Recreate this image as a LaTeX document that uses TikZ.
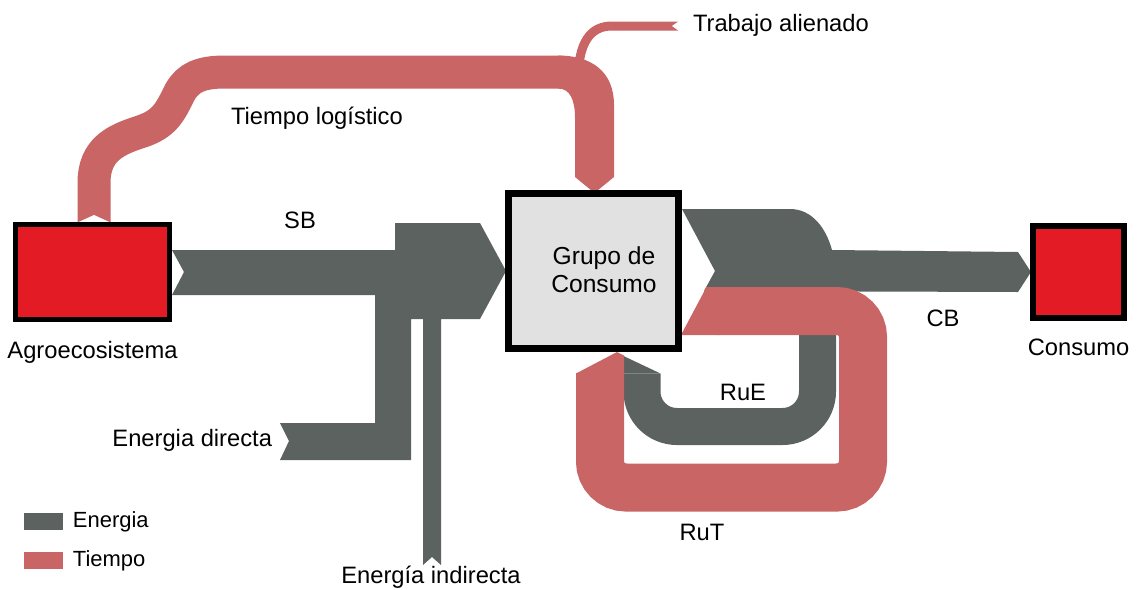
\documentclass[tikz,border=0pt]{standalone}
\usepackage{fontspec}
\setmainfont{Liberation Sans}
\usetikzlibrary{positioning}
\definecolor{energia}{RGB}{91,98,95}
\definecolor{tiempo}{RGB}{201,101,101}
\definecolor{rojo}{RGB}{226,27,36}
\definecolor{grupo}{RGB}{225,225,225}
\newcommand{\px}{0.02cm}

\begin{document}
\begin{tikzpicture}[x=\px, y=-\px, every node/.style={inner sep=0, outer sep=0, font=\fontsize{13.5}{16}\selectfont},
		sistema/.style={draw, line width=#1*\px},
		banda/.style={line width=#1*\px},
		leyenda/.style={minimum width=39*\px, minimum height=17*\px},
		nota/.style={font=\fontsize{12.5}{15}\selectfont}]
	\useasboundingbox (0,0) rectangle (1140,589);

	\fill[energia] (172,250) -- (395,250) -- (395,223) -- (480,223) -- (506,271) -- (480,319) -- (441,319) -- (441,565) -- (432,557) -- (423,565) -- (423,319) -- (411,319) -- (411,460) -- (280,460) -- (289,441) -- (280,423) -- (375,423) -- (375,295) -- (172,295) -- (184,272) -- cycle;

	\draw[tiempo, banda=33] (94,222) -- (94,183) .. controls (94,150) and (115,140) .. (140,132) .. controls (165,124) and (170,112) .. (180,92) .. controls (188,78) and (200,72) .. (225,72) -- (562,72);
	\fill[tiempo] (558,55.5) .. controls (592,55.5) and (614,72) .. (614,105) -- (614,177) -- (594.5,193) -- (575,177) -- (575,118) .. controls (575,100) and (570,88.5) .. (558,88.5) -- cycle;
	\fill[white] (77.5,222.5) -- (94,215) -- (110.5,222.5) -- cycle;
	\draw[tiempo, banda=9] (678,26) -- (612,26) .. controls (592,26) and (582,40) .. (579,64);
	\fill[white] (679,21) -- (672,26) -- (679,31) -- cycle;

	\draw[energia, banda=37, rounded corners=35*\px] (642,373.5) -- (642,426.5) -- (817.5,426.5) -- (817.5,320);
	\fill[energia] (623.5,356) -- (660.5,373.5) -- (623.5,373.5) -- cycle;
	\fill[energia] (682,209) -- (790,209) .. controls (812,209) and (826,228) .. (832,250) -- (1018,252) -- (1031,272) -- (1018,292) -- (704,291) -- (715,271) -- cycle;

	\draw[tiempo, banda=48, rounded corners=26*\px] (718,311) -- (863,311) -- (863,487.5) -- (600,487.5) -- (600,373);
	\fill[tiempo] (706.5,287) -- (719,287) -- (719,335) -- (681,335) -- cycle;
	\fill[tiempo] (576,373.5) -- (617,352) -- (624,355.5) -- (624,373.5) -- cycle;

	\node[sistema=5, fill=rojo, minimum width=154*\px, minimum height=95*\px] (agro) at (92.5,272) {};
	\node[sistema=7, fill=grupo, minimum width=170*\px, minimum height=155*\px] (grupo) at (593.5,271) {};
	\node[sistema=6, fill=rojo, minimum width=91*\px, minimum height=92*\px] (consumo) at (1078.5,272) {};

	\node[align=center, font=\fontsize{14}{16}\selectfont] (grupoL) at (604,270) {Grupo de\\Consumo};
	\node[below=0.43cm of agro] (agroL) {Agroecosistema};
	\node[below=0.42cm of consumo] (consumoL) {Consumo};
	\node[anchor=west] (trabajo) at (693,25) {Trabajo alienado};
	\node[anchor=west] (logistico) at (231,118) {Tiempo logístico};
	\node (sb) at (300,220) {SB};
	\node (cb) at (943,318) {CB};
	\node (rue) at (743,392) {RuE};
	\node (rut) at (702,532) {RuT};
	\node[anchor=east] (directa) at (272,440) {Energia directa};
	\node (indirecta) at (431,577) {Energía indirecta};

	\node[leyenda, fill=energia] (legE) at (43.5,521.5) {};
	\node[leyenda, fill=tiempo, below=0.44cm of legE] (legT) {};
	\node[nota, right=0.2cm of legE] (legEL) {Energia};
	\node[nota, right=0.2cm of legT] (legTL) {Tiempo};
\end{tikzpicture}
\end{document}
